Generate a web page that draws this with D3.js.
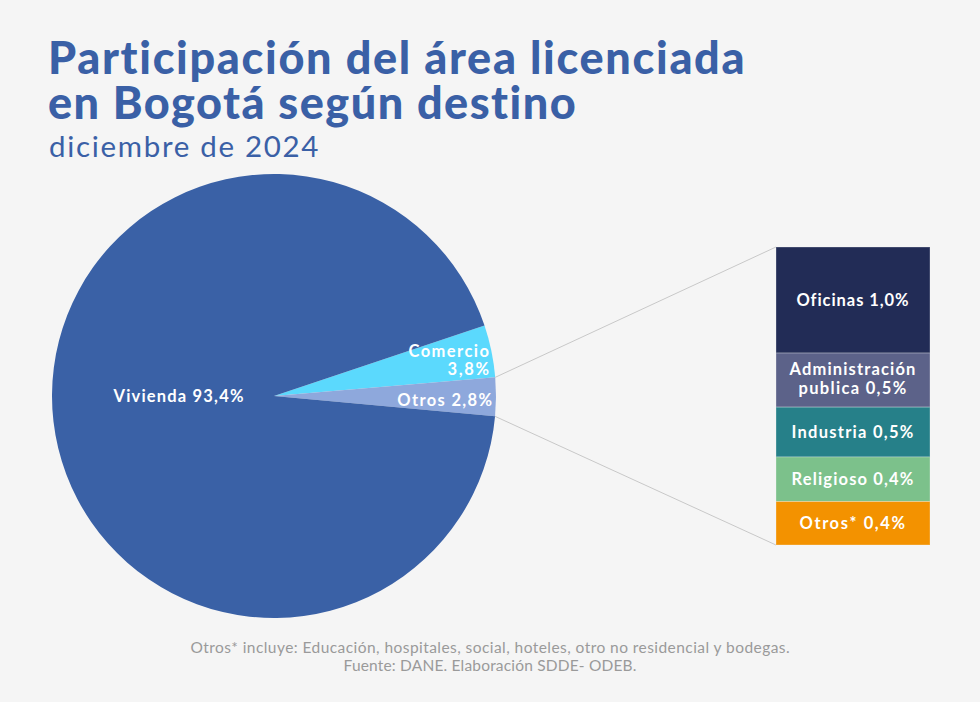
<!DOCTYPE html>
<html><head><meta charset="utf-8">
<script src="https://cdn.jsdelivr.net/npm/d3@7"></script>
<style>
html,body{margin:0;padding:0;background:#f5f5f5;}
svg{display:block;}
</style></head>
<body>
<svg id="chart" width="980" height="702"></svg>
<script>
// Pie data
const pieCategories = ["Comercio", "Otros", "Vivienda"];
const pieValues = [3.8, 2.8, 93.4];
const pieColors = ["#5bd9fd", "#8ea8dc", "#3a61a6"];

// Breakdown of "Otros" (stacked bar)
const barCategories = ["Oficinas", "Administración publica", "Industria", "Religioso", "Otros*"];
const barValues = [1.0, 0.51, 0.47, 0.42, 0.41];
const barColors = ["#222c56", "#5c6289", "#268089", "#7cc18b", "#f39200"];

const titleLines = ["Participación del área licenciada", "en Bogotá según destino"];
const subtitle = "diciembre de 2024";
const footLines = ["Otros* incluye: Educación, hospitales, social, hoteles, otro no residencial y bodegas.",
                   "Fuente: DANE. Elaboración SDDE- ODEB."];

const fmt = v => d3.format(".1f")(v).replace(".", ",") + "%";

const svg = d3.select("#chart");
svg.append("rect").attr("width", 980).attr("height", 702).attr("fill", "#f5f5f5");

const FONT = "Lato, 'Open Sans', sans-serif";

// widen text via letter-spacing so it spans the target width
function fit(sel, target) {
  sel.each(function () {
    const t = d3.select(this);
    const w = this.getComputedTextLength();
    const n = t.text().length;
    if (n < 2) return;
    const ls = Math.max(0, (target - w) / n);
    t.attr("letter-spacing", ls.toFixed(2));
    const anchor = t.attr("text-anchor") || "start";
    if (anchor === "middle") t.attr("dx", (ls / 2).toFixed(2));
    else if (anchor === "end") t.attr("dx", ls.toFixed(2));
  });
  return sel;
}

// Title
const titleWidths = [699, 530];
svg.selectAll("text.title").data(titleLines).join("text")
  .attr("class", "title")
  .attr("x", 48).attr("y", (d, i) => 74 + i * 45)
  .attr("font-family", FONT).attr("font-weight", 900).attr("font-size", 45)
  .attr("fill", "#3a60a6").text(d => d)
  .each(function (d, i) { fit(d3.select(this), titleWidths[i]); });
fit(svg.append("text").attr("x", 49).attr("y", 157)
  .attr("font-family", FONT).attr("font-weight", 400).attr("font-size", 29.5)
  .attr("fill", "#3a60a6").text(subtitle), 271);

// Pie
const cx = 274, cy = 396, R = 222;
const startDeg = 71.5;
const pie = d3.pie().sort(null).value(d => d)
  .startAngle(startDeg * Math.PI / 180)
  .endAngle(startDeg * Math.PI / 180 + 2 * Math.PI);
const arcs = pie(pieValues);
const arc = d3.arc().innerRadius(0).outerRadius(R);
const g = svg.append("g").attr("transform", `translate(${cx},${cy})`);
g.selectAll("path").data(arcs).join("path")
  .attr("d", arc).attr("fill", (d, i) => pieColors[i]);

// Stacked bar scales
const total = d3.sum(barValues);
const bx0 = 776, bw = 154, by0 = 247, bh = 298;
const y = d3.scaleLinear().domain([0, total]).range([by0, by0 + bh]);
const cum = d3.cumsum(barValues);
const segs = barValues.map((v, i) => ({ v, i, y0: i ? cum[i - 1] : 0, y1: cum[i] }));

// connector lines
const otrosArc = arcs[1];
const pt = a => [cx + R * Math.sin(a), cy - R * Math.cos(a)];
const p1 = pt(otrosArc.startAngle), p2 = pt(otrosArc.endAngle);
svg.append("line").attr("x1", p1[0]).attr("y1", p1[1]).attr("x2", bx0).attr("y2", y(0))
  .attr("stroke", "#c8c8c8").attr("stroke-width", 1);
svg.append("line").attr("x1", p2[0]).attr("y1", p2[1]).attr("x2", bx0).attr("y2", y(total))
  .attr("stroke", "#c8c8c8").attr("stroke-width", 1);

svg.selectAll("rect.seg").data(segs).join("rect")
  .attr("class", "seg")
  .attr("x", bx0).attr("width", bw)
  .attr("y", d => y(d.y0)).attr("height", d => y(d.y1) - y(d.y0))
  .attr("fill", d => barColors[d.i])
  .attr("stroke", "#f5f5f5").attr("stroke-opacity", 0.3).attr("stroke-width", 1);

// Bar labels
const LS = 16.5;
const lab = svg.append("g").attr("font-family", FONT).attr("font-weight", 700)
  .attr("font-size", LS).attr("fill", "#ffffff").attr("text-anchor", "middle");
const barLabelW = [113, 109, 123, 123, 107];
segs.forEach(d => {
  const mid = (y(d.y0) + y(d.y1)) / 2;
  const name = barCategories[d.i];
  if (name === "Administración publica") {
    fit(lab.append("text").attr("x", bx0 + bw / 2).attr("y", mid - 5).text("Administración"), 127);
    fit(lab.append("text").attr("x", bx0 + bw / 2).attr("y", mid + 13.5).text("publica " + fmt(d.v)), 109);
  } else {
    fit(lab.append("text").attr("x", bx0 + bw / 2).attr("y", mid + 6).text(name + " " + fmt(d.v)), barLabelW[d.i]);
  }
});

// Pie labels
const pl = svg.append("g").attr("font-family", FONT).attr("font-weight", 700)
  .attr("font-size", LS).attr("fill", "#ffffff");
fit(pl.append("text").attr("x", 178.5).attr("y", cy + 6).attr("text-anchor", "middle")
  .text(pieCategories[2] + " " + fmt(pieValues[2])), 131);
fit(pl.append("text").attr("x", 489).attr("y", 357).attr("text-anchor", "end").text(pieCategories[0]), 82);
fit(pl.append("text").attr("x", 489).attr("y", 375).attr("text-anchor", "end").text(fmt(pieValues[0])), 43);
fit(pl.append("text").attr("x", 492).attr("y", 406).attr("text-anchor", "end")
  .text(pieCategories[1] + " " + fmt(pieValues[1])), 96);

// Footer
const footW = [600, 293];
svg.selectAll("text.foot").data(footLines).join("text")
  .attr("class", "foot")
  .attr("x", 490).attr("y", (d, i) => 653 + i * 18)
  .attr("text-anchor", "middle")
  .attr("font-family", FONT).attr("font-size", 15.5).attr("fill", "#9a9a9a")
  .text(d => d)
  .each(function (d, i) { fit(d3.select(this), footW[i]); });
</script>
</body></html>
